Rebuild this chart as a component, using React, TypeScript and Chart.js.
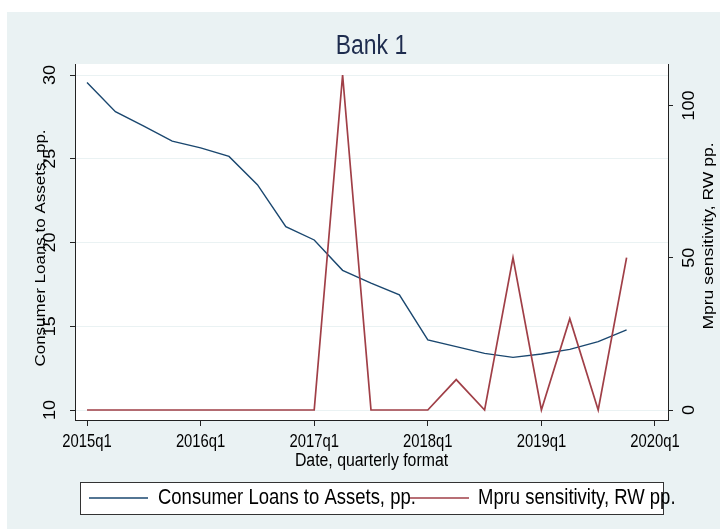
import React, { useEffect, useRef } from "react";
import { Chart, registerables } from "chart.js";

Chart.register(...registerables);

// ---- data ----
const quarters = [
  "2015q1", "2015q2", "2015q3", "2015q4",
  "2016q1", "2016q2", "2016q3", "2016q4",
  "2017q1", "2017q2", "2017q3", "2017q4",
  "2018q1", "2018q2", "2018q3", "2018q4",
  "2019q1", "2019q2", "2019q3", "2019q4",
];
const consumerLoans = [
  29.55, 27.81, 26.95, 26.05, 25.65, 25.14, 23.45, 20.94, 20.15, 18.34,
  17.58, 16.87, 14.18, 13.78, 13.38, 13.14, 13.34, 13.62, 14.08, 14.78,
];
const mpruSensitivity = [
  0, 0, 0, 0, 0, 0, 0, 0, 0, 110,
  0, 0, 0, 10, 0, 50, 0, 30, 0, 50,
];
const xTickValues = [0, 4, 8, 12, 16, 20];
const xTickLabels = ["2015q1", "2016q1", "2017q1", "2018q1", "2019q1", "2020q1"];
const leftTicks = [10, 15, 20, 25, 30];
const rightTicks = [0, 50, 100];

const chartTitle = "Bank 1";
const xTitle = "Date, quarterly format";
const leftTitle = "Consumer Loans to Assets, pp.";
const rightTitle = "Mpru sensitivity, RW pp.";

const BLUE = "#1A476F";
const RED = "#A03F47";
const BG = "#EAF2F3";
const AXIS = "#222222";
const SANS = "'Liberation Sans', Arial, 'DejaVu Sans', sans-serif";

const stataPlugin = {
  id: "stataLook",
  beforeDraw(chart: any) {
    const { ctx, width, height, chartArea: a } = chart;
    ctx.save();
    ctx.fillStyle = "#ffffff";
    ctx.fillRect(0, 0, width, height);
    ctx.fillStyle = BG;
    ctx.fillRect(7, 12, width - 7, height - 12);
    ctx.fillStyle = "#ffffff";
    ctx.fillRect(a.left, a.top, a.right - a.left, a.bottom - a.top);
    ctx.restore();
  },
  afterDraw(chart: any) {
    const { ctx, chartArea: a, scales } = chart;
    const xs = scales.x;
    const yl = scales.y;
    const yr = scales.y1;

    // horizontal text, horizontally squeezed like the reference
    const hText = (
      txt: string, x: number, y: number, font: string, color: string,
      align: CanvasTextAlign, sx: number,
    ) => {
      ctx.save();
      ctx.translate(x, y);
      ctx.scale(sx, 1);
      ctx.font = font;
      ctx.fillStyle = color;
      ctx.textAlign = align;
      ctx.textBaseline = "middle";
      ctx.fillText(txt, 0, 0);
      ctx.restore();
    };
    // vertical text (reads bottom to top), thickness slightly squeezed
    const vText = (txt: string, x: number, y: number, font: string) => {
      ctx.save();
      ctx.translate(x, y);
      ctx.rotate(-Math.PI / 2);
      ctx.scale(1, 0.88);
      ctx.font = font;
      ctx.fillStyle = "#000";
      ctx.textAlign = "center";
      ctx.textBaseline = "middle";
      ctx.fillText(txt, 0, 0);
      ctx.restore();
    };

    const cx = (a.left + a.right) / 2;
    hText(chartTitle, cx, 47, `27px ${SANS}`, "#1E2C4E", "center", 0.85);

    xTickValues.forEach((v, i) => {
      hText(xTickLabels[i], xs.getPixelForValue(v), 442, `19px ${SANS}`, "#000", "center", 0.78);
    });
    hText(xTitle, cx, 461, `18px ${SANS}`, "#000", "center", 0.88);

    leftTicks.forEach((v) => vText(String(v), 51, yl.getPixelForValue(v), `18px ${SANS}`));
    vText(leftTitle, 41, 248, `17px ${SANS}`);
    rightTicks.forEach((v) => vText(String(v), 690, yr.getPixelForValue(v), `18px ${SANS}`));
    vText(rightTitle, 709, 236, `17.5px ${SANS}`);

    // legend
    const lx0 = 80, lx1 = 663, ly0 = 482, ly1 = 514;
    const ly = (ly0 + ly1) / 2;
    ctx.save();
    ctx.fillStyle = "#ffffff";
    ctx.fillRect(lx0, ly0, lx1 - lx0, ly1 - ly0);
    ctx.strokeStyle = "#333";
    ctx.lineWidth = 1;
    ctx.strokeRect(lx0 + 0.5, ly0 + 0.5, lx1 - lx0, ly1 - ly0);

    ctx.lineWidth = 1.5;
    ctx.strokeStyle = BLUE;
    ctx.beginPath();
    ctx.moveTo(89, ly);
    ctx.lineTo(148, ly);
    ctx.stroke();
    ctx.restore();
    hText(chart.data.datasets[0].label, 158, ly, `22px ${SANS}`, "#000", "left", 0.84);

    ctx.save();
    ctx.lineWidth = 1.5;
    ctx.strokeStyle = RED;
    ctx.beginPath();
    ctx.moveTo(410, ly);
    ctx.lineTo(469, ly);
    ctx.stroke();
    ctx.restore();
    hText(chart.data.datasets[1].label, 478, ly, `22px ${SANS}`, "#000", "left", 0.84);
  },
};

export default function App() {
  const canvasRef = useRef<HTMLCanvasElement | null>(null);

  useEffect(() => {
    document.body.style.margin = "0";
    const canvas = canvasRef.current;
    if (!canvas) return;
    const setTicks = (values: number[]) => (scale: any) => {
      scale.ticks = values.map((v) => ({ value: v }));
    };
    const chart = new Chart(canvas, {
      type: "line",
      data: {
        labels: quarters,
        datasets: [
          {
            label: leftTitle,
            data: consumerLoans.map((v, i) => ({ x: i, y: v })),
            borderColor: BLUE,
            borderWidth: 1.4,
            pointRadius: 0,
            tension: 0,
            fill: false,
            yAxisID: "y",
            order: 2,
          },
          {
            label: rightTitle,
            data: mpruSensitivity.map((v, i) => ({ x: i, y: v })),
            borderColor: RED,
            borderWidth: 1.7,
            pointRadius: 0,
            tension: 0,
            fill: false,
            yAxisID: "y1",
            order: 1,
          },
        ],
      },
      options: {
        animation: false,
        responsive: false,
        devicePixelRatio: 1,
        layout: { padding: { top: 64, left: 0, right: 0, bottom: 0 } },
        plugins: {
          legend: { display: false },
          tooltip: { enabled: false },
          title: { display: false },
        },
        scales: {
          x: {
            type: "linear",
            position: "bottom",
            min: -0.423,
            max: 20.458,
            afterBuildTicks: setTicks(xTickValues),
            afterFit: (s: any) => {
              s.height = 109;
            },
            ticks: { display: false },
            grid: {
              drawOnChartArea: false,
              drawTicks: true,
              tickLength: 6,
              tickColor: AXIS,
              color: AXIS,
            },
            border: { display: true, color: AXIS, width: 1 },
          },
          y: {
            type: "linear",
            position: "left",
            min: 9.403,
            max: 30.657,
            afterBuildTicks: setTicks(leftTicks),
            afterFit: (s: any) => {
              s.width = 75;
            },
            ticks: { display: false },
            grid: {
              color: BG,
              lineWidth: 1,
              drawTicks: true,
              tickLength: 5,
              tickColor: AXIS,
            },
            border: { display: true, color: AXIS, width: 1 },
          },
          y1: {
            type: "linear",
            position: "right",
            min: -3.28,
            max: 113.6,
            afterBuildTicks: setTicks(rightTicks),
            afterFit: (s: any) => {
              s.width = 52;
            },
            ticks: { display: false },
            grid: {
              drawOnChartArea: false,
              drawTicks: true,
              tickLength: 5,
              tickColor: AXIS,
            },
            border: { display: true, color: AXIS, width: 1 },
          },
        },
      },
      plugins: [stataPlugin],
    });
    return () => chart.destroy();
  }, []);

  return (
    <div style={{ width: 720, height: 529 }}>
      <canvas ref={canvasRef} width={720} height={529} style={{ display: "block" }} />
    </div>
  );
}
